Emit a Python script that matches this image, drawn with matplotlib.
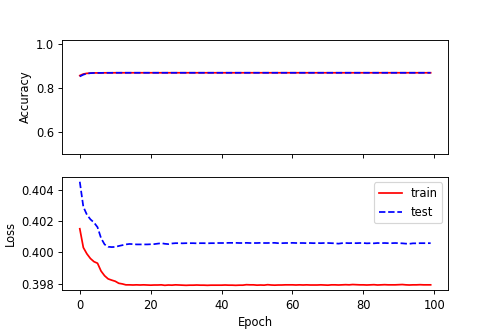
import matplotlib
matplotlib.use("Agg")
import matplotlib.pyplot as plt

# Épocas 0..99
epochs = list(range(100))

# Accuracy (train / test)
acc_train = [0.857, 0.864, 0.867, 0.868, 0.869, 0.869, 0.869, 0.8695, 0.8695, 0.8695] + [0.8697] * 90
acc_test = [0.853, 0.861, 0.866, 0.868, 0.869, 0.869, 0.8692, 0.8695, 0.8695, 0.8695] + [0.8697] * 90

# Loss (train)
loss_train = [
    0.40150, 0.40030, 0.39990, 0.39960, 0.39940, 0.39930, 0.39880, 0.39850, 0.39830, 0.39822,
    0.39815, 0.39802, 0.39798, 0.39792, 0.39792, 0.39791, 0.39792, 0.39791, 0.39792, 0.39791,
    0.39790, 0.39791, 0.39791, 0.39792, 0.39789, 0.39791, 0.39790, 0.39792, 0.39791, 0.39790,
    0.39789, 0.39790, 0.39790, 0.39791, 0.39790, 0.39790, 0.39789, 0.39790, 0.39790, 0.39790,
    0.39790, 0.39791, 0.39790, 0.39790, 0.39789, 0.39790, 0.39790, 0.39793, 0.39792, 0.39792,
    0.39790, 0.39791, 0.39790, 0.39793, 0.39791, 0.39790, 0.39791, 0.39791, 0.39792, 0.39792,
    0.39792, 0.39791, 0.39792, 0.39791, 0.39792, 0.39791, 0.39791, 0.39791, 0.39792, 0.39791,
    0.39790, 0.39792, 0.39792, 0.39791, 0.39792, 0.39793, 0.39792, 0.39794, 0.39793, 0.39792,
    0.39792, 0.39791, 0.39792, 0.39793, 0.39791, 0.39792, 0.39793, 0.39792, 0.39792, 0.39792,
    0.39793, 0.39794, 0.39792, 0.39791, 0.39792, 0.39792, 0.39793, 0.39792, 0.39792, 0.39792,
]

# Loss (test)
loss_test = [
    0.40450, 0.40290, 0.40240, 0.40210, 0.40190, 0.40160, 0.40090, 0.40050, 0.40035, 0.40033,
    0.40034, 0.40040, 0.40045, 0.40050, 0.40053, 0.40052, 0.40050, 0.40050, 0.40050, 0.40050,
    0.40051, 0.40052, 0.40055, 0.40058, 0.40054, 0.40052, 0.40056, 0.40058, 0.40058, 0.40057,
    0.40058, 0.40058, 0.40058, 0.40057, 0.40058, 0.40058, 0.40057, 0.40058, 0.40058, 0.40059,
    0.40059, 0.40059, 0.40060, 0.40060, 0.40060, 0.40059, 0.40059, 0.40060, 0.40059, 0.40059,
    0.40059, 0.40060, 0.40059, 0.40059, 0.40060, 0.40060, 0.40058, 0.40058, 0.40059, 0.40059,
    0.40060, 0.40059, 0.40059, 0.40059, 0.40058, 0.40059, 0.40058, 0.40059, 0.40058, 0.40059,
    0.40059, 0.40058, 0.40057, 0.40055, 0.40058, 0.40059, 0.40058, 0.40059, 0.40058, 0.40059,
    0.40059, 0.40057, 0.40058, 0.40057, 0.40059, 0.40058, 0.40059, 0.40058, 0.40058, 0.40059,
    0.40058, 0.40057, 0.40055, 0.40054, 0.40057, 0.40057, 0.40058, 0.40058, 0.40058, 0.40058,
]

fig, (ax1, ax2) = plt.subplots(2, 1, sharex=True, figsize=(6, 4), dpi=83)
fig.subplots_adjust(left=0.125, right=0.9, top=0.88, bottom=0.125, hspace=0.2)

ax1.plot(epochs, acc_train, color='red', linestyle='-', label='train')
ax1.plot(epochs, acc_test, color='blue', linestyle='--', label='test')
ax1.set_ylabel('Accuracy')
ax1.set_ylim(0.5, 1.02)

ax2.plot(epochs, loss_train, color='red', linestyle='-', label='train')
ax2.plot(epochs, loss_test, color='blue', linestyle='--', label='test')
ax2.set_ylabel('Loss')
ax2.set_xlabel('Epoch')
ax2.legend(loc='upper right')

plt.savefig('out.png')
